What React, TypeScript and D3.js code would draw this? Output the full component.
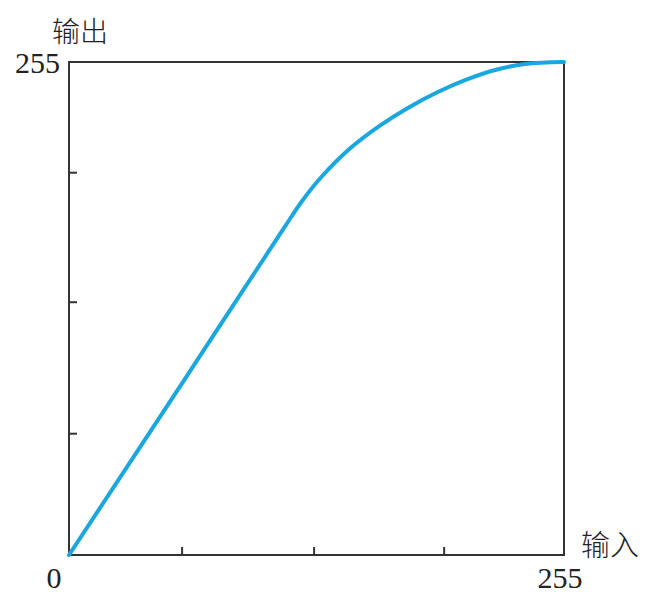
import React, { useEffect, useRef } from "react";
import * as d3 from "d3";

// curve (input -> output, 0..255)
const inputVals = [0, 60, 110, 120, 130, 145, 160, 175, 190, 205, 220, 235, 255];
const outputVals = [0, 91.5, 168, 183, 195.5, 210.5, 222, 231.5, 239.5, 246, 251, 254, 255];
const xTicks = [58, 126, 193];
const yTicks = [63, 131, 198];
const xLabel = "输入";
const yLabel = "输出";

export default function App() {
    const ref = useRef<SVGSVGElement>(null);

    useEffect(() => {
        const svg = d3.select(ref.current);
        svg.selectAll("*").remove();

        const left = 69, right = 564, top = 62, bottom = 555;
        const x = d3.scaleLinear().domain([0, 255]).range([left, right]);
        const y = d3.scaleLinear().domain([0, 255]).range([bottom, top]);
        const serif = "'Liberation Serif', 'Times New Roman', serif";
        const cjk = "'Noto Sans CJK SC', sans-serif";

        // ticks (pointing inward)
        const xAxis = d3.axisBottom(x).tickValues(xTicks).tickSize(-8).tickFormat(() => "");
        svg.append("g")
            .attr("transform", `translate(0,${bottom})`)
            .call(xAxis)
            .call((g) => g.select(".domain").remove())
            .selectAll("line")
            .attr("stroke", "#333")
            .attr("stroke-width", 2);

        const yAxis = d3.axisLeft(y).tickValues(yTicks).tickSize(-8).tickFormat(() => "");
        svg.append("g")
            .attr("transform", `translate(${left},0)`)
            .call(yAxis)
            .call((g) => g.select(".domain").remove())
            .selectAll("line")
            .attr("stroke", "#333")
            .attr("stroke-width", 2);

        // frame
        svg.append("rect")
            .attr("x", x(0))
            .attr("y", y(255))
            .attr("width", x(255) - x(0))
            .attr("height", y(0) - y(255))
            .attr("fill", "none")
            .attr("stroke", "#333")
            .attr("stroke-width", 2);

        // curve
        const pts: [number, number][] = inputVals.map((v, i) => [v, outputVals[i]]);
        const line = d3.line<[number, number]>()
            .x((d) => x(d[0]))
            .y((d) => y(d[1]))
            .curve(d3.curveCatmullRom.alpha(0.5));
        svg.append("path")
            .datum(pts)
            .attr("d", line)
            .attr("fill", "none")
            .attr("stroke", "#1aa7e0")
            .attr("stroke-width", 4)
            .attr("stroke-linecap", "round");

        // labels
        svg.append("text")
            .attr("x", 60).attr("y", 73)
            .attr("text-anchor", "end")
            .attr("font-family", serif).attr("font-size", 30)
            .attr("fill", "#222")
            .text("255");
        svg.append("text")
            .attr("x", 54).attr("y", 588)
            .attr("text-anchor", "middle")
            .attr("font-family", serif).attr("font-size", 30)
            .attr("fill", "#222")
            .text("0");
        svg.append("text")
            .attr("x", 560).attr("y", 588)
            .attr("text-anchor", "middle")
            .attr("font-family", serif).attr("font-size", 30)
            .attr("fill", "#222")
            .text("255");
        svg.append("text")
            .attr("x", 52).attr("y", 42)
            .attr("font-family", cjk).attr("font-size", 28)
            .attr("font-weight", 300)
            .attr("fill", "#222")
            .text(yLabel);
        svg.append("text")
            .attr("x", 581).attr("y", 556)
            .attr("font-family", cjk).attr("font-size", 29)
            .attr("font-weight", 300)
            .attr("fill", "#222")
            .text(xLabel);
    }, []);

    return (
        <svg
            ref={ref}
            width={654}
            height={600}
            style={{ position: "absolute", left: 0, top: 0, background: "#fff" }}
        ></svg>
    );
}
